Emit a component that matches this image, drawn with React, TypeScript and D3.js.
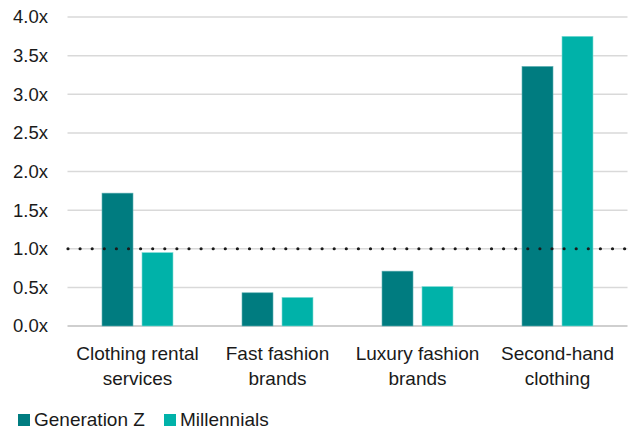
import React from "react";
import * as d3 from "d3";

const categories: string[][] = [
  ["Clothing rental", "services"],
  ["Fast fashion", "brands"],
  ["Luxury fashion", "brands"],
  ["Second-hand", "clothing"],
];
const seriesNames = ["Generation Z", "Millennials"];
const genZ = [1.72, 0.43, 0.71, 3.36];
const millennials = [0.95, 0.37, 0.51, 3.75];
const yTicks = [0, 0.5, 1, 1.5, 2, 2.5, 3, 3.5, 4];
const referenceValue = 1.0;
const colors = ["#007C80", "#00B2A9"];
const strokeColors = ["#5fb0b3", "#7fdcd6"];

const W = 633;
const H = 430;
const FONT = "'Liberation Sans', Arial, sans-serif";

export default function App() {
  const keys = categories.map((c) => c.join(" "));
  const x = d3.scaleBand<string>().domain(keys).range([67.5, 627.5]).paddingInner(0.493).paddingOuter(0.2465);
  const xSub = d3.scaleBand<string>().domain(seriesNames).range([0, x.bandwidth()]).paddingInner(0.225);
  const y = d3.scaleLinear().domain([0, 4]).range([326, 17]);
  const series = [genZ, millennials];

  return (
    <svg width={W} height={H} style={{ position: "absolute", left: 0, top: 0 }} fontFamily={FONT}>
      <rect width={W} height={H} fill="#fff" />
      {yTicks.map((t) => (
        <g key={t}>
          <line
            x1={67.5}
            x2={627.5}
            y1={y(t)}
            y2={y(t)}
            stroke={t === 0 ? "#bfbfbf" : "#d9d9d9"}
            strokeWidth={1.5}
          />
          <text x={48} y={y(t)} dy="0.35em" textAnchor="end" fontSize={18.5} fill="#1a1a1a">
            {d3.format(".1f")(t) + "x"}
          </text>
        </g>
      ))}
      {keys.map((k, i) => (
        <g key={k} transform={`translate(${x(k)},0)`}>
          {seriesNames.map((s, j) => (
            <rect
              key={s}
              x={xSub(s)}
              y={y(series[j][i])}
              width={xSub.bandwidth()}
              height={y(0) - y(series[j][i])}
              fill={colors[j]}
              stroke={strokeColors[j]}
              strokeWidth={0.6}
            />
          ))}
        </g>
      ))}
      <line
        x1={68}
        x2={628}
        y1={y(referenceValue)}
        y2={y(referenceValue)}
        stroke="#1a1a1a"
        strokeWidth={3.2}
        strokeLinecap="round"
        strokeDasharray="0 12.1"
      />
      {categories.map((lines, i) => (
        <text
          key={i}
          x={(x(keys[i]) as number) + x.bandwidth() / 2}
          y={360}
          textAnchor="middle"
          fontSize={19}
          fill="#1a1a1a"
        >
          {lines.map((l, li) => (
            <tspan key={li} x={(x(keys[i]) as number) + x.bandwidth() / 2} dy={li === 0 ? 0 : 25}>
              {l}
            </tspan>
          ))}
        </text>
      ))}
      {seriesNames.map((s, j) => {
        const lx = j === 0 ? 18 : 164;
        return (
          <g key={s}>
            <rect x={lx} y={414} width={12} height={12} fill={colors[j]} />
            <text x={lx + 16} y={425.5} fontSize={19} fill="#1a1a1a">
              {s}
            </text>
          </g>
        );
      })}
    </svg>
  );
}
